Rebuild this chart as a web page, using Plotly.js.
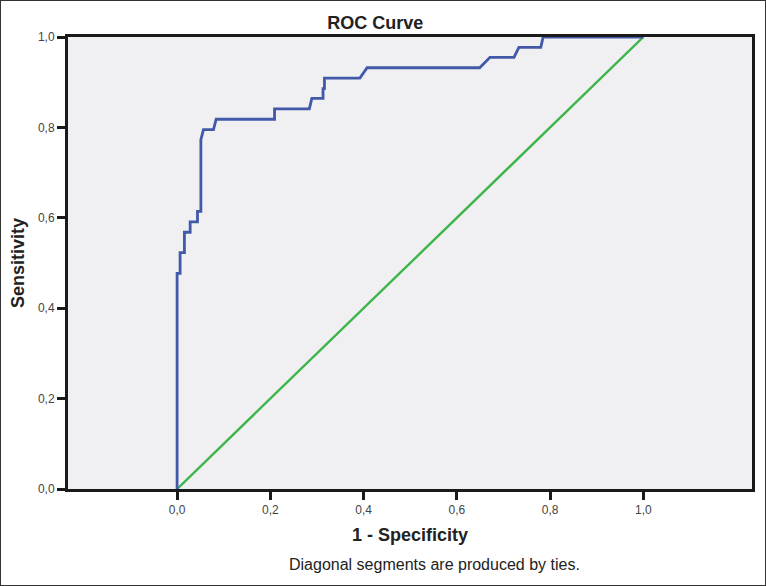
<!DOCTYPE html>
<html>
<head>
<meta charset="utf-8">
<script src="https://cdn.plot.ly/plotly-3.0.1.min.js"></script>
<style>
html,body{margin:0;padding:0;background:#fff;}
#chart{width:766px;height:586px;box-sizing:border-box;border:1px solid #333;}
</style>
</head>
<body>
<div id="chart"></div>
<script>
// ROC curve points (1 - Specificity, Sensitivity)
const rocFpr = [0, 0, 0.0064, 0.0064, 0.0157, 0.0157, 0.028, 0.028, 0.0437, 0.0437, 0.051, 0.051, 0.0565, 0.078, 0.0838, 0.209, 0.209, 0.2836, 0.289, 0.313, 0.313, 0.316, 0.316, 0.392, 0.4075, 0.649, 0.671, 0.7225, 0.733, 0.780, 0.785, 1.0];
const rocTpr = [0, 0.477, 0.477, 0.523, 0.523, 0.568, 0.568, 0.591, 0.591, 0.614, 0.614, 0.773, 0.795, 0.795, 0.818, 0.818, 0.841, 0.841, 0.864, 0.864, 0.886, 0.886, 0.909, 0.909, 0.932, 0.932, 0.955, 0.955, 0.977, 0.977, 1.0, 1.0];
// Reference line
const refX = [0, 1];
const refY = [0, 1];
// Tick labels
const xTickVals = [0, 0.2, 0.4, 0.6, 0.8, 1.0];
const xTickText = ["0,0", "0,2", "0,4", "0,6", "0,8", "1,0"];
const yTickVals = [0, 0.2, 0.4, 0.6, 0.8, 1.0];
const yTickText = ["0,0", "0,2", "0,4", "0,6", "0,8", "1,0"];

const traces = [
  {x: refX, y: refY, mode: 'lines', line: {color: '#3db54a', width: 2.4}, hoverinfo: 'skip', cliponaxis: false},
  {x: rocFpr, y: rocTpr, mode: 'lines', line: {color: '#4258a8', width: 2.8}, hoverinfo: 'skip', cliponaxis: false}
];

const font = 'Liberation Sans, Arial, sans-serif';
const layout = {
  width: 764, height: 584,
  margin: {l: 67, r: 13, t: 36, b: 96},
  paper_bgcolor: '#ffffff',
  plot_bgcolor: '#f0f0f2',
  showlegend: false,
  font: {family: font, color: '#333'},
  title: {text: '<b>ROC Curve</b>', font: {family: font, size: 18, color: '#222'}, x: 0.49, xanchor: 'center', y: 0.963, yanchor: 'middle'},
  xaxis: {
    range: [-0.234, 1.233], tickvals: xTickVals, ticktext: xTickText,
    showgrid: false, zeroline: false,
    showline: true, linecolor: '#1a1a1a', linewidth: 3, mirror: true,
    ticks: 'outside', ticklen: 8, tickwidth: 3, tickcolor: '#1a1a1a',
    tickfont: {family: font, size: 12, color: '#444'},
    title: {text: '<b>1 - Specificity</b>', font: {family: font, size: 18, color: '#222'}, standoff: 12}
  },
  yaxis: {
    range: [0, 1], tickvals: yTickVals, ticktext: yTickText,
    showgrid: false, zeroline: false,
    showline: true, linecolor: '#1a1a1a', linewidth: 3, mirror: true,
    ticks: 'outside', ticklen: 8, tickwidth: 3, tickcolor: '#1a1a1a',
    tickfont: {family: font, size: 12, color: '#444'},
    title: {text: '<b>Sensitivity</b>', font: {family: font, size: 18, color: '#222'}, standoff: 9}
  },
  annotations: [{
    text: 'Diagonal segments are produced by ties.', xref: 'paper', yref: 'paper',
    x: 0.536, y: -0.166, xanchor: 'center', yanchor: 'middle', showarrow: false,
    font: {family: font, size: 16, color: '#222'}
  }]
};
Plotly.newPlot('chart', traces, layout, {staticPlot: true});
</script>
</body>
</html>
